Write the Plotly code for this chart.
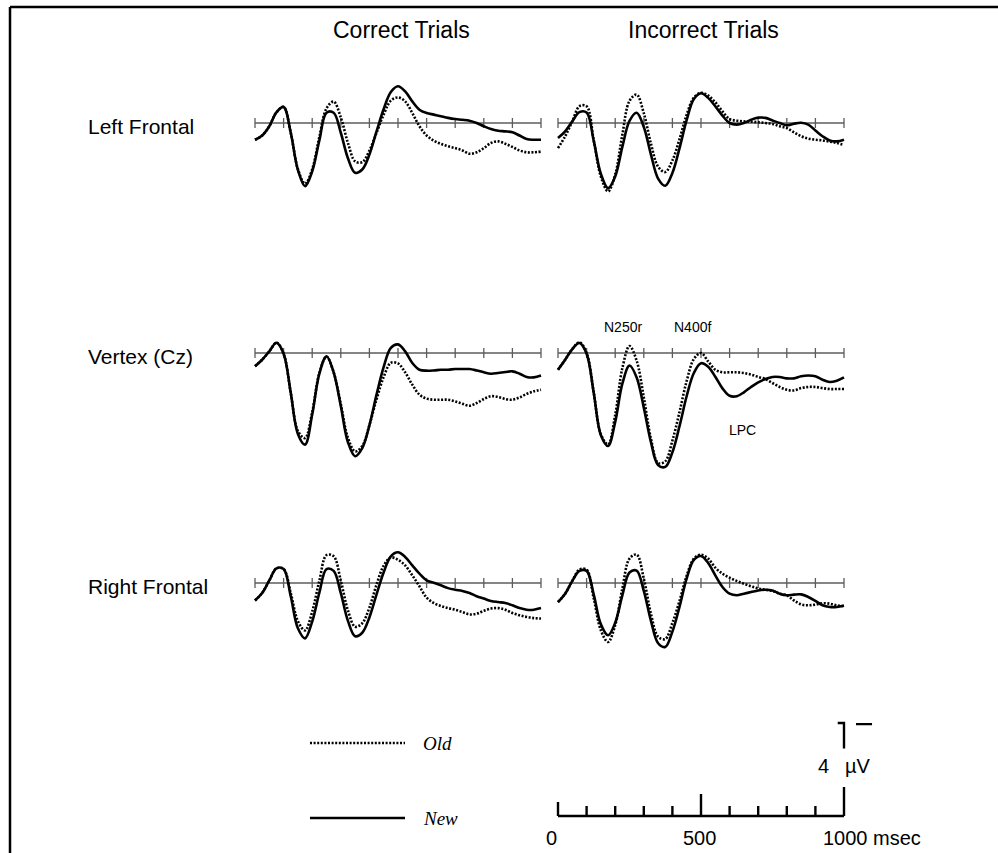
import plotly.graph_objects as go

W, H = 998, 853
UV_PX = 23.25      # vertical scale: pixels per microvolt (negative plotted up)
MS_PX = 0.286      # horizontal scale: pixels per millisecond

times = list(range(0, 1001, 25))
tick_ms = list(range(0, 1001, 100))

col_titles = ["Correct Trials", "Incorrect Trials"]
row_labels = ["Left Frontal", "Vertex (Cz)", "Right Frontal"]

# ---- grand-average ERPs (microvolts), sampled every 25 ms from 0 to 1000 ms ----
lf_correct_new = [0.72, 0.54, 0.14, -0.46, -0.69, 0.42, 2.02, 2.72, 2.08, 0.75,
                  -0.44, -0.44, 0.42, 1.52, 2.14, 2.00, 1.36, 0.36, -0.60, -1.33,
                  -1.58, -1.36, -0.93, -0.57, -0.43, -0.36, -0.29, -0.22, -0.17, -0.14,
                  -0.10, 0.00, 0.14, 0.26, 0.33, 0.36, 0.40, 0.54, 0.69, 0.72, 0.72]
lf_correct_old = [0.72, 0.54, 0.14, -0.46, -0.69, 0.42, 1.98, 2.61, 1.99, 0.60,
                  -0.63, -0.92, -0.24, 0.86, 1.65, 1.68, 1.19, 0.42, -0.37, -0.96,
                  -1.10, -0.93, -0.43, 0.14, 0.54, 0.76, 0.90, 1.00, 1.08, 1.18,
                  1.32, 1.26, 1.08, 0.86, 0.79, 0.89, 1.03, 1.18, 1.26, 1.26, 1.23]
lf_incorrect_new = [0.65, 0.36, -0.07, -0.47, -0.45, 0.77, 2.19, 2.80, 2.30, 1.03,
                    -0.09, -0.44, 0.17, 1.36, 2.39, 2.70, 2.15, 1.08, -0.13, -1.03,
                    -1.28, -1.08, -0.72, -0.32, 0.00, 0.07, 0.00, -0.14, -0.23, -0.22,
                    -0.11, 0.00, 0.10, 0.03, -0.01, 0.07, 0.32, 0.57, 0.75, 0.79, 0.72]
lf_incorrect_old = [1.08, 0.57, -0.07, -0.72, -0.72, 0.75, 2.31, 2.94, 2.22, 0.50,
                    -0.95, -1.22, -0.42, 0.89, 1.88, 2.11, 1.61, 0.69, -0.36, -1.09,
                    -1.30, -1.18, -0.89, -0.50, -0.17, -0.10, -0.07, -0.06, -0.03, 0.00,
                    0.04, 0.14, 0.22, 0.40, 0.57, 0.67, 0.72, 0.75, 0.80, 0.86, 0.95]

cz_correct_new = [0.57, 0.29, -0.07, -0.44, 0.03, 1.71, 3.48, 3.94, 2.65, 0.89,
                  0.14, 0.83, 2.28, 3.84, 4.44, 4.09, 3.11, 1.79, 0.60, -0.22,
                  -0.37, -0.07, 0.43, 0.72, 0.76, 0.75, 0.72, 0.72, 0.69, 0.69,
                  0.69, 0.75, 0.83, 0.89, 0.86, 0.82, 0.79, 0.89, 1.03, 1.05, 0.97]
cz_correct_old = [0.57, 0.29, -0.07, -0.44, 0.03, 1.71, 3.35, 3.66, 2.55, 0.86,
                  0.16, 0.83, 2.20, 3.65, 4.23, 4.00, 3.10, 1.99, 1.03, 0.42,
                  0.45, 0.83, 1.36, 1.79, 1.96, 2.01, 2.01, 2.01, 2.08, 2.18,
                  2.27, 2.15, 1.98, 1.86, 1.89, 1.98, 2.01, 1.91, 1.76, 1.65, 1.58]
cz_incorrect_new = [0.72, 0.29, -0.17, -0.43, 0.03, 1.72, 3.54, 4.00, 2.97, 1.32,
                    0.54, 1.05, 2.35, 3.84, 4.82, 4.90, 4.27, 3.14, 1.85, 0.86,
                    0.44, 0.59, 1.02, 1.52, 1.84, 1.86, 1.69, 1.46, 1.26, 1.12,
                    1.03, 1.03, 1.09, 1.09, 1.00, 0.97, 1.00, 1.15, 1.25, 1.19, 1.05]
cz_incorrect_old = [0.72, 0.29, -0.17, -0.46, 0.00, 1.70, 3.50, 3.93, 2.67, 0.65,
                    -0.30, 0.33, 1.91, 3.69, 4.73, 4.66, 3.77, 2.53, 1.20, 0.26,
                    0.00, 0.36, 0.72, 0.83, 0.83, 0.83, 0.86, 0.93, 1.03, 1.12,
                    1.29, 1.46, 1.58, 1.61, 1.51, 1.46, 1.46, 1.51, 1.55, 1.55, 1.55]

rf_correct_new = [0.75, 0.43, -0.11, -0.63, -0.60, 0.57, 1.95, 2.38, 1.66, 0.42,
                  -0.60, -0.52, 0.44, 1.63, 2.29, 2.14, 1.48, 0.49, -0.46, -1.15,
                  -1.32, -1.12, -0.76, -0.40, -0.11, -0.01, 0.10, 0.22, 0.29, 0.34,
                  0.43, 0.57, 0.67, 0.77, 0.82, 0.86, 0.96, 1.08, 1.15, 1.15, 1.08]
rf_correct_old = [0.75, 0.43, -0.11, -0.63, -0.60, 0.43, 1.64, 2.04, 1.23, -0.10,
                  -1.20, -1.15, -0.10, 1.18, 1.88, 1.73, 1.06, 0.07, -0.75, -1.10,
                  -1.00, -0.76, -0.33, 0.14, 0.63, 0.86, 0.99, 1.08, 1.15, 1.25,
                  1.35, 1.32, 1.20, 1.10, 1.08, 1.15, 1.29, 1.39, 1.46, 1.51, 1.53]
rf_incorrect_new = [0.82, 0.46, -0.09, -0.52, -0.52, 0.50, 1.78, 2.25, 1.71, 0.53,
                    -0.45, -0.53, 0.34, 1.63, 2.59, 2.75, 2.09, 1.02, -0.20, -0.99,
                    -1.16, -0.86, -0.33, 0.17, 0.46, 0.53, 0.46, 0.39, 0.32, 0.29,
                    0.32, 0.46, 0.53, 0.50, 0.49, 0.60, 0.77, 0.96, 1.03, 1.03, 0.97]
rf_incorrect_old = [0.82, 0.46, -0.09, -0.58, -0.57, 0.67, 2.04, 2.54, 1.81, 0.24,
                    -1.05, -1.22, -0.19, 1.33, 2.31, 2.41, 1.72, 0.77, -0.32, -1.05,
                    -1.22, -1.05, -0.66, -0.40, -0.23, -0.09, 0.03, 0.14, 0.24, 0.29,
                    0.34, 0.46, 0.53, 0.75, 0.92, 0.96, 0.93, 0.87, 0.89, 0.96, 1.00]

panels = [
    [(lf_correct_new, lf_correct_old), (lf_incorrect_new, lf_incorrect_old)],
    [(cz_correct_new, cz_correct_old), (cz_incorrect_new, cz_incorrect_old)],
    [(rf_correct_new, rf_correct_old), (rf_incorrect_new, rf_incorrect_old)],
]

# calibration bar values
cal_uv = 4
cal_ms = 1000
cal_labels = ["0", "500", "1000 msec"]

# ---- page geometry (pixels) ----
col_x0 = [255, 558]          # x pixel of 0 ms in each column
row_base = [123, 353, 583]   # y pixel of the 0 uV line in each row
cal_base = 816               # y pixel of the calibration time bar

WAVE_W = 2.6
DOTS = "2px,1.6px"

layout = dict(
    width=W, height=H, autosize=False,
    margin=dict(l=0, r=0, t=0, b=0, pad=0),
    paper_bgcolor="white", plot_bgcolor="rgba(0,0,0,0)",
    showlegend=False,
    font=dict(family="Liberation Sans, Arial, sans-serif", color="black"),
)
fig = go.Figure()
axis_count = [0]


def make_axes(x0_px, base_px, ms_lo, ms_hi, uv_top, uv_bottom):
    axis_count[0] += 1
    n = axis_count[0]
    s = "" if n == 1 else str(n)
    d0 = x0_px + ms_lo * MS_PX
    d1 = x0_px + ms_hi * MS_PX
    top_px = base_px + uv_top * UV_PX
    bot_px = base_px + uv_bottom * UV_PX
    layout["xaxis" + s] = dict(domain=[d0 / W, d1 / W], range=[ms_lo, ms_hi],
                               visible=False, fixedrange=True, anchor="y" + s)
    layout["yaxis" + s] = dict(domain=[1 - bot_px / H, 1 - top_px / H],
                               range=[uv_bottom, uv_top],
                               visible=False, fixedrange=True, anchor="x" + s)
    return "x" + s, "y" + s


tick_half = 5 / UV_PX
for r, base in enumerate(row_base):
    for c, x0 in enumerate(col_x0):
        xa, ya = make_axes(x0, base, -25, 1025, -2.8, 5.6)
        bx, by = [0, 1000, None], [0, 0, None]
        for t in tick_ms:
            bx += [t, t, None]
            by += [-tick_half, tick_half, None]
        fig.add_trace(go.Scatter(x=bx, y=by, mode="lines", xaxis=xa, yaxis=ya,
                                 line=dict(color="#5c5c5c", width=1.3),
                                 hoverinfo="skip"))
        new_vals, old_vals = panels[r][c]
        fig.add_trace(go.Scatter(x=times, y=old_vals, mode="lines", xaxis=xa, yaxis=ya,
                                 name="Old",
                                 line=dict(color="black", width=WAVE_W, dash=DOTS,
                                           shape="spline", smoothing=1.0)))
        fig.add_trace(go.Scatter(x=times, y=new_vals, mode="lines", xaxis=xa, yaxis=ya,
                                 name="New",
                                 line=dict(color="black", width=WAVE_W,
                                           shape="spline", smoothing=1.0)))

# ---- calibration bars ----
xa, ya = make_axes(col_x0[1], cal_base, -100, 1200, -4.6, 0.6)
tx, ty = [0, cal_ms, None], [0, 0, None]
for t in tick_ms[:-1]:
    h = 0.6 if t == 0 else (0.95 if t == 500 else 0.43)
    tx += [t, t, None]
    ty += [0, -h, None]
fig.add_trace(go.Scatter(x=tx, y=ty, mode="lines", xaxis=xa, yaxis=ya,
                         line=dict(color="black", width=2.4), hoverinfo="skip"))
vx = [cal_ms, cal_ms, None, cal_ms, cal_ms, cal_ms - 22, None, cal_ms + 42, cal_ms + 98]
vy = [0, -1.25, None, -2.9, -cal_uv, -cal_uv, None, -cal_uv + 0.05, -cal_uv + 0.05]
fig.add_trace(go.Scatter(x=vx, y=vy, mode="lines", xaxis=xa, yaxis=ya,
                         line=dict(color="black", width=2.4), hoverinfo="skip"))


def ann(text, x_px, y_px, size, xanchor="center", **kw):
    return dict(text=text, x=x_px / W, y=1 - y_px / H, xref="paper", yref="paper",
                showarrow=False, xanchor=xanchor, yanchor="middle",
                font=dict(size=size, **kw))


annotations = [
    ann(col_titles[0], 401, 30, 23),
    ann(col_titles[1], 703, 30, 23),
    ann(row_labels[0], 86, 126, 21, xanchor="left"),
    ann(row_labels[1], 86, 356, 21, xanchor="left"),
    ann(row_labels[2], 86, 586, 21, xanchor="left"),
    ann("N250r", 623, 327, 14),
    ann("N400f", 692, 327, 14),
    ann("LPC", 742, 430, 14),
    ann("<i>Old</i>", 421, 743, 19, xanchor="left",
        family="Liberation Serif, Times New Roman, serif"),
    ann("<i>New</i>", 421, 818, 19, xanchor="left",
        family="Liberation Serif, Times New Roman, serif"),
    ann(str(cal_uv), 823, 766, 20),
    ann("\u00b5V", 858, 766, 20),
    ann(cal_labels[0], 551, 838, 20),
    ann(cal_labels[1], 699, 838, 20),
    ann(cal_labels[2], 821, 838, 20, xanchor="left"),
]

shapes = [
    # frame
    dict(type="line", xref="paper", yref="paper", x0=10 / W, x1=1.0,
         y0=1 - 7 / H, y1=1 - 7 / H, line=dict(color="black", width=2.5)),
    dict(type="line", xref="paper", yref="paper", x0=10 / W, x1=10 / W,
         y0=1 - 7 / H, y1=0, line=dict(color="black", width=2.5)),
    # legend samples
    dict(type="line", xref="paper", yref="paper", x0=310 / W, x1=405 / W,
         y0=1 - 743 / H, y1=1 - 743 / H, line=dict(color="black", width=2.4, dash=DOTS)),
    dict(type="line", xref="paper", yref="paper", x0=310 / W, x1=405 / W,
         y0=1 - 818 / H, y1=1 - 818 / H, line=dict(color="black", width=2.4)),
]

layout["annotations"] = annotations
layout["shapes"] = shapes
fig.update_layout(**layout)
fig.write_html("out.html", config=dict(displayModeBar=False))
